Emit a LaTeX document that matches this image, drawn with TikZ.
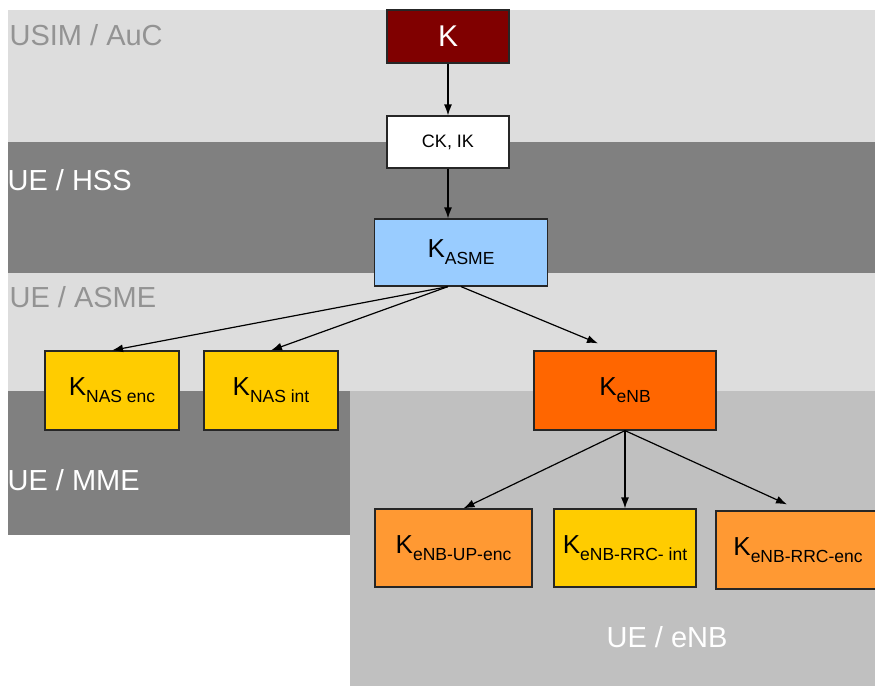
\documentclass[tikz,border=0pt]{standalone}
\usepackage{fontspec}
\setmainfont{Liberation Sans}
\usetikzlibrary{arrows.meta}
\definecolor{bandlight}{HTML}{DDDDDD}
\definecolor{banddark}{HTML}{808080}
\definecolor{bandenb}{HTML}{C0C0C0}
\definecolor{labelgray}{HTML}{939393}
\definecolor{kred}{HTML}{800000}
\definecolor{kblue}{HTML}{99CCFF}
\definecolor{kyellow}{HTML}{FFCC00}
\definecolor{korange}{HTML}{FF6600}
\definecolor{klight}{HTML}{FF9933}
\newcommand{\ksub}[1]{K\raisebox{-7pt}{\fontsize{17.5}{18}\selectfont #1}}

\begin{document}
\begin{tikzpicture}
  [x=1pt,y=-1pt,>={Latex[length=11pt,width=8pt]},
   every node/.style={rectangle,draw=black!85,line width=1.2pt,inner sep=0pt,
     font=\fontsize{26}{28}\selectfont},
   region/.style={draw=none,font=\fontsize{29}{31}\selectfont,anchor=base west}]
  \useasboundingbox (0,0) rectangle (875,686);
  % bands
  \fill[bandlight] (8,10) rectangle (875,142);
  \fill[banddark] (8,142) rectangle (875,273);
  \fill[bandlight] (8,273) rectangle (875,391);
  \fill[banddark] (8,391) rectangle (350,535);
  \fill[bandenb] (350,391) rectangle (875,686);
  \node[region,text=labelgray] (usim) at (9,45) {USIM / AuC};
  \node[region,text=white] (hss) at (7,190) {UE / HSS};
  \node[region,text=labelgray] (asmelbl) at (9,307) {UE / ASME};
  \node[region,text=white] (mme) at (7,490) {UE / MME};
  \node[region,text=white] (enblbl) at (606,647) {UE / eNB};
  % keys
  \node[fill=kred,text=white,minimum width=122pt,minimum height=53pt,
    font=\fontsize{30}{32}\selectfont] (k) at (448,36.5) {K};
  \node[fill=white,minimum width=122pt,minimum height=52pt,
    font=\fontsize{18}{20}\selectfont] (ck) at (448,142) {CK, IK};
  \node[fill=kblue,minimum width=173pt,minimum height=67pt] (asme) at (461,252.5) {\ksub{ASME}};
  \node[fill=kyellow,minimum width=134pt,minimum height=79pt] (nasenc) at (112,390.5) {\ksub{NAS enc}};
  \node[fill=kyellow,minimum width=134pt,minimum height=79pt] (nasint) at (271,390.5) {\ksub{NAS int}};
  \node[fill=korange,minimum width=182pt,minimum height=79pt] (enb) at (625,390.5) {\ksub{eNB}};
  \node[fill=klight,minimum width=157pt,minimum height=78pt] (upenc) at (453.5,548) {\ksub{eNB-UP-enc}};
  \node[fill=kyellow,minimum width=142pt,minimum height=78pt] (rrcint) at (625,548) {\ksub{eNB-RRC- int}};
  \node[fill=klight,minimum width=164pt,minimum height=78pt] (rrcenc) at (798,550) {\ksub{eNB-RRC-enc}};
  % arrow ends
  \coordinate (asmeL) at ([xshift=-13pt]asme.south);
  \coordinate (ckin) at (ck.south |- asme.north);
  \coordinate (enbin) at ([xshift=-27pt,yshift=7pt]enb.north);
  \coordinate (upin) at ([xshift=10pt]upenc.north);
  \coordinate (rrcin) at ([xshift=-11pt,yshift=6pt]rrcenc.north);
\foreach \from/\to in
{k.south/ck.north, ck.south/ckin, asmeL/nasenc.north, asmeL/nasint.north,
 asme.south/enbin, enb.south/upin, enb.south/rrcint.north, enb.south/rrcin}
    \draw[->,line width=1.2pt] (\from) -- (\to);
\end{tikzpicture}
\end{document}
